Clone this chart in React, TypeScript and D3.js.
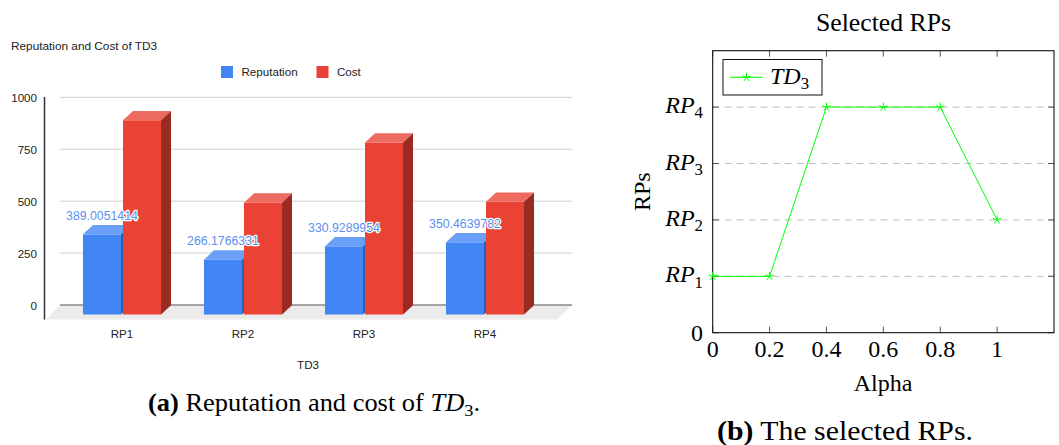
import React from "react";
import * as d3 from "d3";

// left chart: reputation and cost of TD3
const categories = ["RP1", "RP2", "RP3", "RP4"];
const series = ["Reputation", "Cost"];
const reputation = [389.0051414, 266.1766331, 330.9289954, 350.4639782];
const cost = [943, 543, 835, 547];
const yTicks = [0, 250, 500, 750, 1000];

// right chart: selected RPs vs alpha
const alpha = [0, 0.2, 0.4, 0.6, 0.8, 1];
const selected = [1, 1, 4, 4, 4, 2];
const alphaTicks = [0, 0.2, 0.4, 0.6, 0.8, 1];
const rpTicks = [0, 1, 2, 3, 4];

const sans = "'Liberation Sans', Arial, sans-serif";
const serif = "'Liberation Serif', 'Times New Roman', serif";

const colors = {
  Reputation: { front: "#4285f4", top: "#6a9ff7", side: "#2d5fb8" },
  Cost: { front: "#ea4335", top: "#ee6b60", side: "#992b23" },
};

// 3D depth offset of the bars
const DX = 10;
const DY = 9.3;

const Star = ({ cx, cy, r }) => {
  let d = "";
  for (let i = 0; i < 5; i++) {
    const a = -Math.PI / 2 + (i * 2 * Math.PI) / 5;
    d += `M${cx},${cy}L${cx + r * Math.cos(a)},${cy + r * Math.sin(a)}`;
  }
  return <path d={d} stroke="#00ff00" strokeWidth={1} fill="none" />;
};

const RPLabel = ({ x, y, n, size, anchor = "end" }) => (
  <text x={x} y={y} textAnchor={anchor} fontFamily={serif} fontSize={size}>
    <tspan fontStyle="italic">RP</tspan>
    <tspan fontSize={size * 0.7} dy={size * 0.22}>{n}</tspan>
  </text>
);

const BarChart = () => {
  const yFront = d3.scaleLinear().domain([0, 1000]).range([314.5, 108.5]);
  const yBack = d3.scaleLinear().domain([0, 1000]).range([305, 97.3]);
  const x0 = d3
    .scaleBand()
    .domain(categories)
    .range([61.5, 545.5])
    .paddingInner(0.355)
    .paddingOuter(0.1775);
  const x1 = d3
    .scaleBand()
    .domain(series)
    .range([0, x0.bandwidth()])
    .paddingInner(0.05);
  const values = { Reputation: reputation, Cost: cost };
  const w = x1.bandwidth();

  return (
    <g fontFamily={sans}>
      <text x={11} y={50} fontSize={11.8} fill="#222">
        Reputation and Cost of TD3
      </text>
      {/* legend */}
      {series.map((s, i) => {
        const lx = i === 0 ? 221 : 316.5;
        return (
          <g key={s}>
            <rect x={lx} y={66} width={12} height={12} fill={colors[s].front} />
            <text x={lx + 20.5} y={76} fontSize={11.6} fill="#222">
              {s}
            </text>
          </g>
        );
      })}
      {/* gridlines */}
      {yTicks.map((t) => (
        <g key={t}>
          {t > 0 && (
            <line x1={60} x2={572} y1={yBack(t)} y2={yBack(t)} stroke="#cfcfcf" strokeWidth={1} />
          )}
          <text x={37} y={yBack(t) + 4.5} textAnchor="end" fontSize={11.6} fill="#222">
            {t}
          </text>
        </g>
      ))}
      {/* floor */}
      <polygon points="60,305 572,305 557,319.5 46,319.5" fill="#ebebeb" />
      <line x1={60} x2={572} y1={305} y2={305} stroke="#8a8a8a" strokeWidth={1.5} />
      <line x1={44.5} x2={44.5} y1={97} y2={319.5} stroke="#333" strokeWidth={1.5} />
      {/* bars */}
      {categories.map((c, ci) =>
        series.map((s) => {
          const x = x0(c) + x1(s);
          const v = values[s][ci];
          const top = yFront(v);
          const bottom = yFront(0);
          return (
            <g key={c + s}>
              <rect x={x} y={top} width={w} height={bottom - top} fill={colors[s].front} />
              <polygon
                points={`${x},${top} ${x + DX},${top - DY} ${x + w + DX},${top - DY} ${x + w},${top}`}
                fill={colors[s].top}
              />
              <polygon
                points={`${x + w},${top} ${x + w + DX},${top - DY} ${x + w + DX},${bottom - DY} ${x + w},${bottom}`}
                fill={colors[s].side}
              />
            </g>
          );
        })
      )}
      {/* data labels */}
      {categories.map((c, ci) => {
        const x = x0(c) + x1("Reputation") + w / 2;
        const y = yFront(reputation[ci]) - DY - 5;
        return (
          <text
            key={c}
            x={x}
            y={y}
            textAnchor="middle"
            fontSize={12.3}
            fill="#5a90f2"
            stroke="#fff"
            strokeWidth={2.5}
            paintOrder="stroke"
            strokeLinejoin="round"
          >
            {reputation[ci].toFixed(7)}
          </text>
        );
      })}
      {/* x labels */}
      {categories.map((c) => (
        <text key={c} x={x0(c) + x0.bandwidth() / 2} y={337.5} textAnchor="middle" fontSize={11.6} fill="#222">
          {c}
        </text>
      ))}
      <text x={308} y={368.5} textAnchor="middle" fontSize={11.6} fill="#222">
        TD3
      </text>
      {/* caption */}
      <text
        x={148}
        y={410.5}
        fontFamily={serif}
        fontSize={24.5}
        textLength={332}
        lengthAdjust="spacingAndGlyphs"
      >
        <tspan fontWeight="bold">(a)</tspan>
        <tspan> Reputation and cost of </tspan>
        <tspan fontStyle="italic">TD</tspan>
        <tspan fontSize={17} dy={5}>3</tspan>
        <tspan dy={-5}>.</tspan>
      </text>
    </g>
  );
};

const LineChart = () => {
  const x = d3.scaleLinear().domain([0, 1.2]).range([712.7, 1054]);
  const y = d3.scaleLinear().domain([0, 5]).range([332.7, 50.7]);
  const line = d3
    .line<number>()
    .x((d, i) => x(alpha[i]))
    .y((d) => y(d));
  const fs = 24;

  return (
    <g fontFamily={serif}>
      <text x={816} y={31} fontSize={25} textLength={135} lengthAdjust="spacingAndGlyphs">
        Selected RPs
      </text>
      {/* dashed grid */}
      {rpTicks
        .filter((t) => t > 0)
        .map((t) => (
          <line
            key={t}
            x1={x(0)}
            x2={x(1.2)}
            y1={y(t)}
            y2={y(t)}
            stroke="#bdbdbd"
            strokeWidth={1}
            strokeDasharray="7 5"
          />
        ))}
      {/* ticks */}
      {alphaTicks.map((t) => (
        <g key={t} stroke="#444" strokeWidth={0.9}>
          <line x1={x(t)} x2={x(t)} y1={y(0)} y2={y(0) - 6} />
          <line x1={x(t)} x2={x(t)} y1={y(5)} y2={y(5) + 6} />
        </g>
      ))}
      {rpTicks.map((t) => (
        <g key={t} stroke="#444" strokeWidth={0.9}>
          <line x1={x(0)} x2={x(0) + 6} y1={y(t)} y2={y(t)} />
          <line x1={x(1.2)} x2={x(1.2) - 6} y1={y(t)} y2={y(t)} />
        </g>
      ))}
      <rect
        x={x(0)}
        y={y(5)}
        width={x(1.2) - x(0)}
        height={y(0) - y(5)}
        fill="none"
        stroke="#111"
        strokeWidth={1.1}
      />
      {/* series */}
      <path d={line(selected)} fill="none" stroke="#00ff00" strokeWidth={1} />
      {selected.map((v, i) => (
        <Star key={i} cx={x(alpha[i])} cy={y(v)} r={4.5} />
      ))}
      {/* tick labels */}
      {alphaTicks.map((t) => (
        <text key={t} x={x(t)} y={357} textAnchor="middle" fontSize={fs}>
          {d3.format("~g")(t)}
        </text>
      ))}
      {rpTicks.map((t) =>
        t === 0 ? (
          <text key={t} x={703} y={y(t) + 8} textAnchor="end" fontSize={fs}>
            0
          </text>
        ) : (
          <RPLabel key={t} x={703} y={y(t) + 6} n={t} size={fs} />
        )
      )}
      <text x={883} y={391} textAnchor="middle" fontSize={fs}>
        Alpha
      </text>
      <text
        transform={`translate(650,${(y(0) + y(5)) / 2}) rotate(-90)`}
        textAnchor="middle"
        fontSize={fs}
      >
        RPs
      </text>
      {/* legend */}
      <rect x={723} y={59.5} width={99} height={35.5} fill="#fff" stroke="#111" strokeWidth={1} />
      <line x1={730} x2={763} y1={77.3} y2={77.3} stroke="#00ff00" strokeWidth={1} />
      <Star cx={746.5} cy={77.3} r={4.5} />
      <text x={770} y={84} fontSize={fs}>
        <tspan fontStyle="italic">TD</tspan>
        <tspan fontSize={fs * 0.7} dy={5}>3</tspan>
      </text>
      {/* caption */}
      <text
        x={717}
        y={440}
        fontSize={26.5}
        textLength={256}
        lengthAdjust="spacingAndGlyphs"
      >
        <tspan fontWeight="bold">(b)</tspan>
        <tspan> The selected RPs.</tspan>
      </text>
    </g>
  );
};

export default function App() {
  return (
    <svg
      width={1059}
      height={445}
      style={{ position: "absolute", left: 0, top: 0, background: "#fff" }}
    >
      <BarChart />
      <LineChart />
    </svg>
  );
}
